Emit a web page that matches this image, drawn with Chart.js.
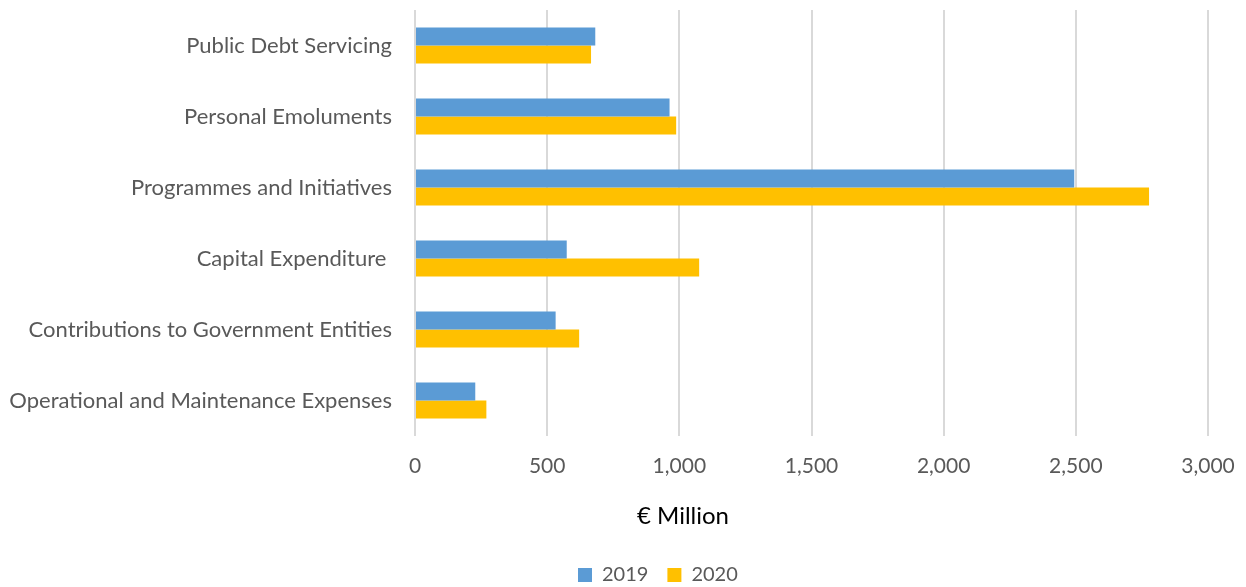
<!DOCTYPE html>
<html>
<head>
<meta charset="utf-8">
<script src="https://cdn.jsdelivr.net/npm/chart.js@4.4.1/dist/chart.umd.min.js"></script>
<style>
  html, body { margin: 0; padding: 0; background: #fff; }
  #wrap { width: 1246px; height: 587px; }
</style>
</head>
<body>
<div id="wrap"><canvas id="spendChart" width="1246" height="587"></canvas></div>
<script>
// expenditure by category, € million
const categories = [
  'Public Debt Servicing',
  'Personal Emoluments',
  'Programmes and Initiatives',
  'Capital Expenditure ',
  'Contributions to Government Entities',
  'Operational and Maintenance Expenses'
]
const values2019 = [682, 963, 2494, 574, 532, 228]
const values2020 = [666, 988, 2777, 1075, 621, 270]
const xTicks = [0, 500, 1000, 1500, 2000, 2500, 3000]

const grey = '#595959'
const fontFamily = 'Lato, "Open Sans", sans-serif'
const plotBottom = 436
const legendFont = 20
const legendPad = 19
const legendStart = { x: 578, y: 575 }

// axis title under the tick labels, and move the legend row under it
const extras = {
  id: 'extras',
  afterUpdate(chart) {
    const lg = chart.legend
    if (!lg || !lg.legendHitBoxes.length) return
    const dx = legendStart.x - lg.legendHitBoxes[0].left
    const dy = legendStart.y - (lg.top + legendPad + legendFont / 2)
    lg.left += dx; lg.right += dx
    lg.top += dy; lg.bottom += dy
  },
  afterDraw(chart) {
    const ctx = chart.ctx
    ctx.save()
    ctx.fillStyle = '#000'
    ctx.font = '24px ' + fontFamily
    ctx.textAlign = 'center'
    ctx.textBaseline = 'middle'
    ctx.fillText('€ Million', 683, 516)
    ctx.restore()
  }
}

const ctx = document.getElementById('spendChart').getContext('2d')

new Chart(ctx, {
  type: 'bar',
  data: {
    labels: categories,
    datasets: [
      { label: '2019', data: values2019, backgroundColor: '#5B9BD5', categoryPercentage: 0.51, barPercentage: 1 },
      { label: '2020', data: values2020, backgroundColor: '#FFC000', categoryPercentage: 0.51, barPercentage: 1 }
    ]
  },
  options: {
    indexAxis: 'y',
    responsive: false,
    animation: false,
    layout: { padding: { top: 10, right: 38, left: 0, bottom: 0 } },
    scales: {
      x: {
        min: 0,
        max: 3000,
        afterBuildTicks: scale => { scale.ticks = xTicks.map(v => ({ value: v })) },
        afterFit: scale => {
          scale.height = scale.chart.height - plotBottom - scale.chart.legend.height
          scale.paddingLeft = 0
          scale.paddingRight = 0
        },
        grid: { color: '#D9D9D9', lineWidth: 2, drawTicks: false },
        border: { display: false },
        ticks: {
          color: grey,
          padding: 18,
          font: { family: fontFamily, size: 21 },
          callback: v => v.toLocaleString('en-US')
        }
      },
      y: {
        afterFit: scale => {
          scale.width = 415
          scale.paddingTop = 0
          scale.paddingBottom = 0
        },
        grid: { display: false, drawTicks: false },
        border: { display: false },
        ticks: {
          color: grey,
          padding: 23,
          font: { family: fontFamily, size: 22 }
        }
      }
    },
    plugins: {
      legend: {
        position: 'bottom',
        labels: {
          color: grey,
          font: { family: fontFamily, size: legendFont },
          boxWidth: 14,
          boxHeight: 14,
          padding: legendPad
        }
      },
      tooltip: { enabled: false }
    }
  },
  plugins: [extras]
})
</script>
</body>
</html>
